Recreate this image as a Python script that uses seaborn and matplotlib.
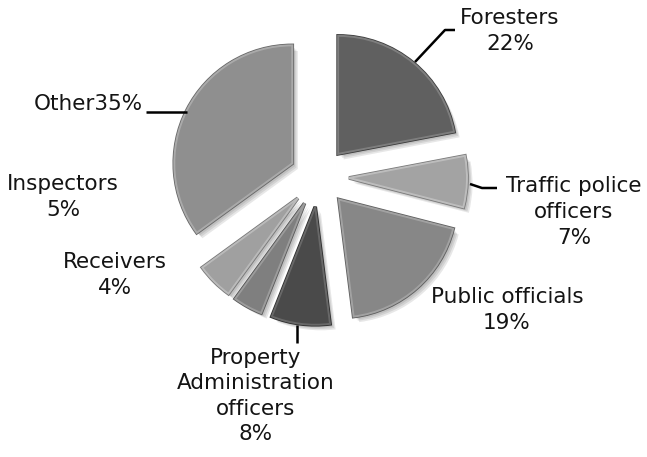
import matplotlib
matplotlib.use("Agg")
import matplotlib.pyplot as plt
import matplotlib.patheffects as pe
import seaborn as sns

# Share of cases by occupation
categories = ["Foresters", "Traffic police officers", "Public officials",
              "Property Administration officers", "Receivers", "Inspectors", "Other"]
shares = [22, 7, 19, 8, 4, 5, 35]
label_texts = ["Foresters\n22%", "Traffic police\nofficers\n7%", "Public officials\n19%",
               "Property\nAdministration\nofficers\n8%", "Receivers\n4%", "Inspectors\n5%",
               "Other35%"]
slice_colors = ["#606060", "#a3a3a3", "#878787", "#4a4a4a", "#7f7f7f", "#a0a0a0", "#8f8f8f"]
edge_colors = ["#7e7e7e", "#bdbdbd", "#a2a2a2", "#686868", "#9c9c9c", "#bababa", "#aaaaaa"]
rim_colors = ["#3c3c3c", "#7a7a7a", "#5e5e5e", "#2c2c2c", "#5a5a5a", "#777777", "#676767"]

sns.set_theme(style="white")
plt.rcParams["font.family"] = ["DejaVu Sans"]

W, H = 647, 457
fig = plt.figure(figsize=(W / 100, H / 100), dpi=100)
ax = fig.add_axes([0, 0, 1, 1])

R = 118
cx, cy = 319, H - 177
wedges, _ = ax.pie(shares, radius=R, center=(cx, cy), startangle=90, counterclock=False,
                   explode=[30] * len(shares), colors=slice_colors,
                   wedgeprops=dict(linewidth=1.4))

# soft drop shadow plus a dark rim and lighter bevel line on each slice
shadow = [pe.SimplePatchShadow(offset=(d, -d), shadow_rgbFace="k", alpha=0.10)
          for d in (1.0, 2.0, 3.0, 4.0)]
for w, ec, rc in zip(wedges, edge_colors, rim_colors):
    w.set_edgecolor(ec)
    w.set_path_effects(shadow + [pe.Stroke(linewidth=2.6, foreground=rc), pe.Normal()])

ax.set_xlim(0, W)
ax.set_ylim(0, H)
ax.set_aspect("auto")
ax.axis("off")

fs = 15.5
# label anchor points (pixel space, y measured from the top)
label_pos = [(510, 31), (574, 212), (507, 310), (256, 396), (115, 275), (63, 197), (88, 104)]
for txt, (x, y) in zip(label_texts, label_pos):
    ax.text(x, H - y, txt, ha="center", va="center", fontsize=fs, linespacing=1.35,
            color="#141414")

# leader lines
leaders = [
    ([455, 445, 415], [30, 30, 62]),
    ([497, 482, 470], [188, 188, 184]),
    ([297, 297], [325, 343]),
    ([146, 187], [112, 112]),
]
for xs, ys in leaders:
    ax.plot(xs, [H - v for v in ys], color="black", linewidth=1.8, solid_capstyle="butt")

fig.savefig("out.png", dpi=100)
